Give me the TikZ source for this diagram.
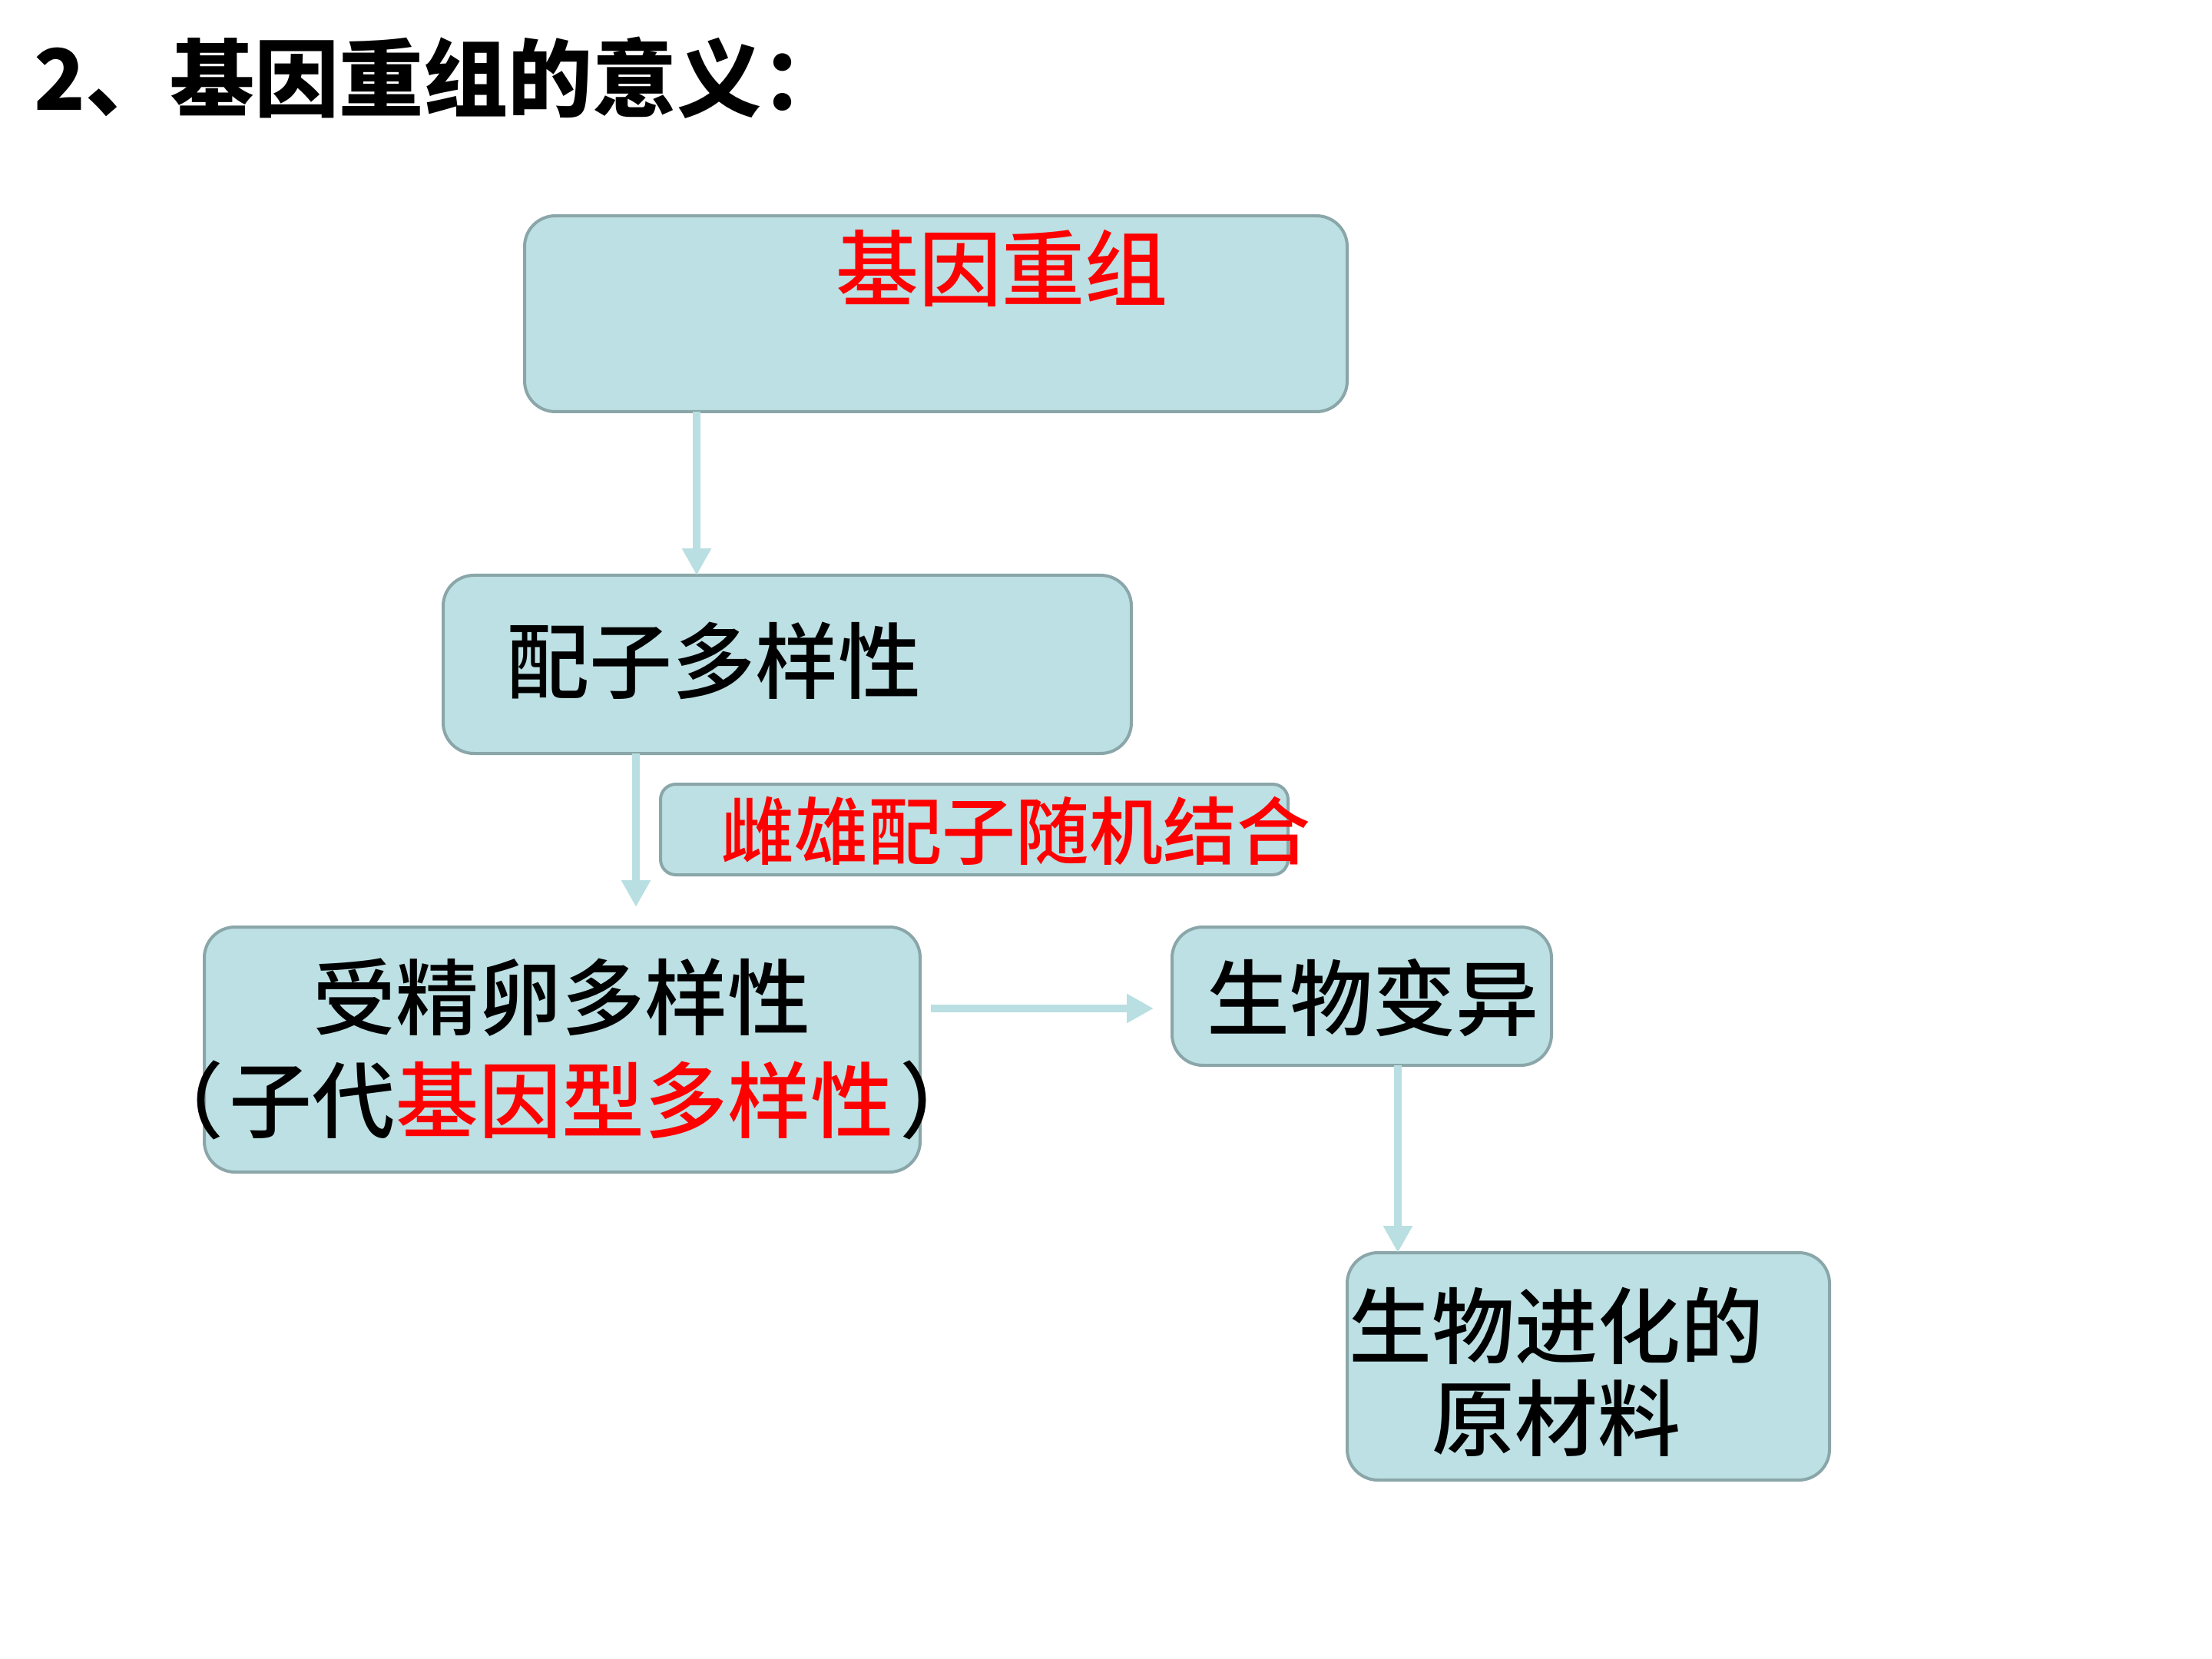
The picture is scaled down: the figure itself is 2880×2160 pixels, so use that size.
\documentclass[tikz,border=0pt]{standalone}
\usepackage{fontspec}
\setmainfont{Noto Sans CJK SC}
\newfontfamily\cjk{Noto Sans CJK SC Medium}
\newfontfamily\cjkb{Noto Sans CJK SC Black}
\usetikzlibrary{arrows.meta}
\definecolor{boxfill}{HTML}{BCE0E3}
\definecolor{boxline}{HTML}{8AA6A9}
\definecolor{arrowc}{HTML}{B9DFE2}
\definecolor{redtxt}{HTML}{FF0000}
\tikzset{
  box/.style={draw=boxline, fill=boxfill, line width=1pt, rounded corners=10pt, inner sep=0pt, outer sep=0pt},
  txt/.style={inner sep=0pt, font=\cjk\fontsize{27}{33.5}\selectfont, align=center},
  arr/.style={draw=arrowc, line width=2.5pt, -{Triangle[length=8.75pt,width=9pt]}},
}
\begin{document}
\begin{tikzpicture}[x=0.25pt,y=-0.25pt]
\useasboundingbox (0,0) rectangle (2880,2160);
% title
\node[anchor=west, inner sep=0pt, font=\cjkb\fontsize{27.5}{34}\selectfont] (title) at (44,101) {2、基因重组的意义：};
% boxes
\node[box, minimum width=267.75pt, minimum height=63.75pt] (b1) at (1218.5,408.5) {};
\node[box, minimum width=224pt, minimum height=58pt] (b2) at (1025,865) {};
\node[box, rounded corners=5pt, minimum width=204.25pt, minimum height=29.5pt] (lab) at (1268.5,1080) {};
\node[box, minimum width=233pt, minimum height=79.75pt] (b3) at (732,1366.5) {};
\node[box, minimum width=123.5pt, minimum height=45pt] (b4) at (1773,1297) {};
\node[box, minimum width=157pt, minimum height=74pt] (b5) at (2068,1779) {};
% texts
\node[txt, text=redtxt] (t1) at (1304,349) {基因重组};
\node[txt] (t2) at (929,860) {配子多样性};
\node[txt, text=redtxt, font=\cjk\fontsize{24}{28}\selectfont] (tl) at (1322,1082) {雌雄配子随机结合};
\node[txt] (t3) at (731,1366) {受精卵多样性\\（\hspace{2pt}子代\textcolor{redtxt}{基因型多样性}\hspace{2pt}）};
\node[txt] (t4) at (1787,1299) {生物变异};
\node[txt, font=\cjk\fontsize{27}{30}\selectfont] (t5) at (2026,1786) {生物进化的\\原材料};
% connectors
\coordinate (c1) at (907,0);
\coordinate (c2) at (828,0);
\coordinate (c3) at (0,1313);
\coordinate (c4) at (1820,0);
\draw[arr] (b1.south -| c1) -- (b2.north -| c1);
\draw[arr, shorten >=6.5pt] (b2.south -| c2) -- (b3.north -| c2);
\draw[arr, shorten <=3.5pt, shorten >=6pt] (b3.east |- c3) -- (b4.west |- c3);
\draw[arr] (b4.south -| c4) -- (b5.north -| c4);
\end{tikzpicture}
\end{document}
